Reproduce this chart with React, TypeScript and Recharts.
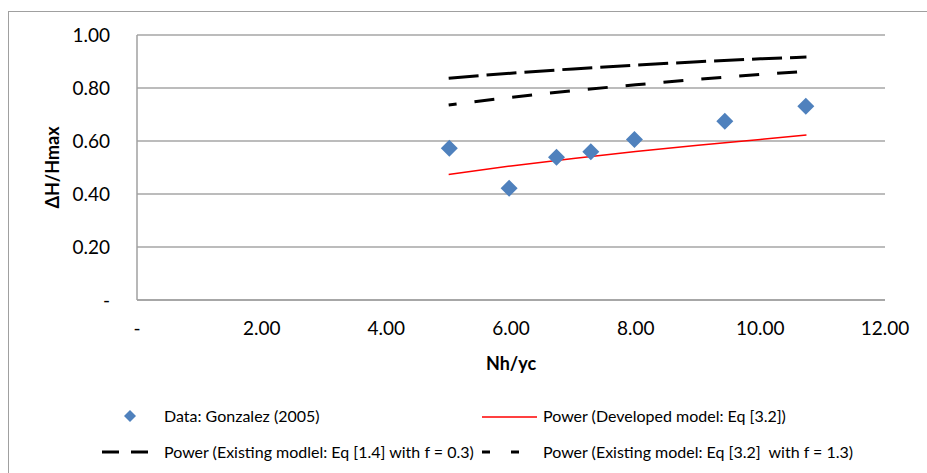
import {
  CartesianGrid,
  ComposedChart,
  Label,
  Line,
  Scatter,
  XAxis,
  YAxis,
} from "recharts";

const FONT = "Lato, Carlito, Calibri, sans-serif";

// measured data (Gonzalez 2005)
const dataX = [5.01, 5.97, 6.73, 7.28, 7.98, 9.43, 10.73];
const dataY = [0.573, 0.422, 0.539, 0.559, 0.606, 0.675, 0.731];

// trend lines
const trendX = [5.0, 6.0, 7.0, 8.0, 9.0, 10.0, 10.74];
const developed = [0.474, 0.506, 0.534, 0.56, 0.584, 0.606, 0.623];
const existing14 = [0.837, 0.856, 0.872, 0.886, 0.899, 0.91, 0.917];
const existing32 = [0.736, 0.765, 0.79, 0.812, 0.833, 0.851, 0.863];

const xTicks = [0, 2, 4, 6, 8, 10, 12];
const yTicks = [0, 0.2, 0.4, 0.6, 0.8, 1.0];

const points = dataX.map((x, i) => ({ x, y: dataY[i] }));
const devData = trendX.map((x, i) => ({ x, y: developed[i] }));
const ex14Data = trendX.map((x, i) => ({ x, y: existing14[i] }));
const ex32Data = trendX.map((x, i) => ({ x, y: existing32[i] }));

const fmt = (v: number) => (v === 0 ? "-" : v.toFixed(2));

const Diamond = (props: any) => {
  const { cx, cy } = props;
  const r = 8.5;
  return (
    <path
      d={`M${cx},${cy - r} L${cx + r},${cy} L${cx},${cy + r} L${cx - r},${cy} Z`}
      fill="#4F81BD"
    />
  );
};

const legendText: React.CSSProperties = {
  position: "absolute",
  fontFamily: FONT,
  fontSize: 16,
  color: "#000",
  lineHeight: "18px",
  whiteSpace: "pre",
};

const ChartLegend = () => (
  <div style={{ position: "absolute", left: 0, top: 0, width: 927, height: 473, pointerEvents: "none" }}>
    <svg width={927} height={473} style={{ position: "absolute", left: 0, top: 0 }}>
      <path d="M130,410 L136,416 L130,422 L124,416 Z" fill="#4F81BD" />
      <line x1={482} y1={417} x2={537} y2={417} stroke="#FF0000" strokeWidth={1.5} />
      <line x1={102} y1={452} x2={150} y2={452} stroke="#000" strokeWidth={3} strokeDasharray="17 12" />
      <line x1={482} y1={452} x2={519} y2={452} stroke="#000" strokeWidth={3} strokeDasharray="8 21" />
    </svg>
    <span style={{ ...legendText, left: 164, top: 407 }}>Data: Gonzalez (2005)</span>
    <span style={{ ...legendText, left: 543, top: 407 }}>Power (Developed model: Eq [3.2])</span>
    <span style={{ ...legendText, left: 164, top: 443 }}>Power (Existing modlel: Eq [1.4] with f = 0.3)</span>
    <span style={{ ...legendText, left: 543, top: 443 }}>Power (Existing model: Eq [3.2]  with f = 1.3)</span>
  </div>
);

export default function App() {
  return (
    <div
      style={{
        position: "absolute",
        left: 0,
        top: 0,
        width: 927,
        height: 473,
        overflow: "hidden",
        background: "#fff",
      }}
    >
      <div
        style={{
          position: "absolute",
          left: 8,
          top: 11,
          width: 940,
          height: 480,
          border: "1px solid #a0a0a0",
        }}
      />
      <ComposedChart
        width={927}
        height={473}
        margin={{ top: 35, right: 42, bottom: 143, left: 0 }}
        style={{ position: "absolute", left: 0, top: 0 }}
      >
        <CartesianGrid vertical={false} stroke="#a6a6a6" strokeWidth={1.5} />
        <XAxis
          dataKey="x"
          type="number"
          domain={[0, 12]}
          ticks={xTicks}
          tickFormatter={fmt}
          height={30}
          tickLine={false}
          tickSize={0}
          tickMargin={22}
          axisLine={{ stroke: "#a0a0a0", strokeWidth: 1.5 }}
          tick={{ fill: "#000", fontSize: 19, fontFamily: FONT }}
          allowDuplicatedCategory={false}
        >
          <Label
            content={({ viewBox }: any) => (
              <text
                x={viewBox.x + viewBox.width / 2}
                y={viewBox.y + 63}
                textAnchor="middle"
                dominantBaseline="central"
                fontFamily={FONT}
                fontSize={18}
                fontWeight="bold"
                fill="#000"
              >
                Nh/yc
              </text>
            )}
          />
        </XAxis>
        <YAxis
          type="number"
          domain={[0, 1]}
          ticks={yTicks}
          tickFormatter={fmt}
          width={137}
          tickLine={false}
          tickSize={0}
          tickMargin={27}
          axisLine={{ stroke: "#a0a0a0", strokeWidth: 1.5 }}
          tick={{ fill: "#000", fontSize: 19, fontFamily: FONT }}
        >
          <Label
            content={({ viewBox }: any) => {
              const cx = 52;
              const cy = viewBox.y + viewBox.height / 2;
              return (
                <text
                  x={cx}
                  y={cy}
                  transform={`rotate(-90 ${cx} ${cy})`}
                  textAnchor="middle"
                  dominantBaseline="central"
                  fontFamily={FONT}
                  fontSize={18}
                  fontWeight="bold"
                  fill="#000"
                >
                  ΔH/Hmax
                </text>
              );
            }}
          />
        </YAxis>
        <Line
          data={ex14Data}
          dataKey="y"
          type="monotone"
          stroke="#000"
          strokeWidth={3}
          strokeDasharray="30 8"
          dot={false}
          activeDot={false}
          isAnimationActive={false}
        />
        <Line
          data={ex32Data}
          dataKey="y"
          type="monotone"
          stroke="#000"
          strokeWidth={3}
          strokeDasharray="8 18 20 18 20 18 20 18 20 18 20 18 20 18 20 18 20 18 20 18"
          dot={false}
          activeDot={false}
          isAnimationActive={false}
        />
        <Line
          data={devData}
          dataKey="y"
          type="monotone"
          stroke="#FF0000"
          strokeWidth={1.5}
          dot={false}
          activeDot={false}
          isAnimationActive={false}
        />
        <Scatter data={points} dataKey="y" shape={Diamond} isAnimationActive={false} />
      </ComposedChart>
      <ChartLegend />
    </div>
  );
}
